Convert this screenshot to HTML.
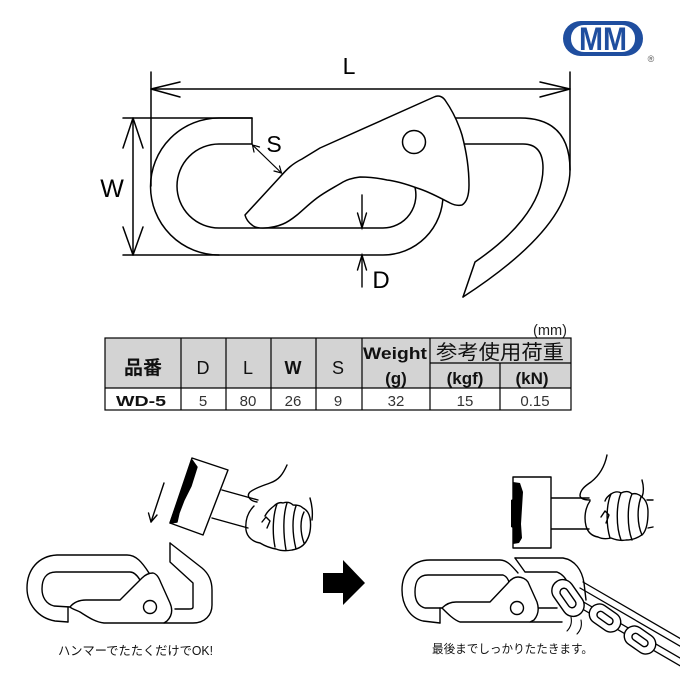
<!DOCTYPE html>
<html><head><meta charset="utf-8">
<style>
html,body{margin:0;padding:0;background:#fff;}
svg{display:block;}
text{font-family:"Liberation Sans","Noto Sans CJK JP",sans-serif;}
</style></head>
<body>
<svg width="680" height="680" viewBox="0 0 680 680" xmlns="http://www.w3.org/2000/svg">
<rect width="680" height="680" fill="#fff"/>

<!-- ================= LOGO ================= -->
<rect x="563" y="21" width="80" height="35" rx="17.5" fill="#1f4e9f"/>
<rect x="571" y="25" width="64" height="27" rx="13" fill="#fff"/>
<text x="603" y="50" text-anchor="middle" font-size="32" font-weight="bold" fill="#1f4e9f" textLength="48" lengthAdjust="spacingAndGlyphs">MM</text>
<text x="651" y="62" text-anchor="middle" font-size="9" fill="#555">®</text>

<!-- ================= TOP DIAGRAM ================= -->
<g fill="none" stroke="#000" stroke-width="1.5" stroke-linejoin="round" stroke-linecap="round">
  <line x1="151" y1="72" x2="151" y2="186"/>
  <line x1="570" y1="72" x2="570" y2="170"/>
  <line x1="151" y1="89" x2="570" y2="89"/>
  <polyline points="180,82 151,89 180,97"/>
  <polyline points="540,82 570,89 540,97"/>
  <line x1="123" y1="118" x2="252" y2="118"/>
  <line x1="123" y1="255" x2="219" y2="255"/>
  <line x1="133" y1="118" x2="133" y2="255"/>
  <polyline points="123,148 133,118 143,148"/>
  <polyline points="123,227 133,255 143,227"/>

  <path d="M252,118 L219,118 A68.5,68.5 0 0 0 219,255 L383,255 A60,60 0 0 0 443,195"/>
  <path d="M252,144 L219,144 A42,42 0 0 0 219,228 L383,228 A33,33 0 0 0 414,184"/>
  <line x1="252" y1="118" x2="252" y2="144"/>

  <path d="M450,118 L520,118 Q570,118 570,170 C570,215 520,260 463,297"/>
  <path d="M455,144 L523,144 Q543,144 543,168 C543,205 510,238 475,262 L463,297"/>
</g>

<path d="M245,215 L280,177 C287,169 292,164 302,159 L320,148 L434,97 C438,95 442,96 445,100 C452,110 458,122 462,135 C466,150 469,168 469,185 C469,195 467,202 462,205 C458,206 454,205 450,203 C440,198 430,192 417,188 C406,184 396,181 387,180 C378,178 368,177 360,177 C353,178 348,179 343,182 C333,188 325,192 317,198 C309,204 303,210 297,215 C292,219 288,222 283,224 C276,227 270,228 263,228 C258,228 254,227 252,225 C248,222 246,219 245,215 Z" fill="#fff" stroke="#000" stroke-width="1.5" stroke-linejoin="round"/>
<circle cx="414" cy="142" r="11.5" fill="#fff" stroke="#000" stroke-width="1.5"/>

<g fill="none" stroke="#000" stroke-width="1.2" stroke-linecap="round">
  <line x1="252.5" y1="145" x2="281.5" y2="173"/>
  <polyline points="254,152 252.5,145 259.5,147"/>
  <polyline points="274,171 281.5,173 279.5,166"/>
  <line x1="362" y1="195" x2="362" y2="228" stroke-width="1.4"/>
  <polyline points="357.5,213 362,228 366.5,213" stroke-width="1.4"/>
  <line x1="362" y1="255" x2="362" y2="287" stroke-width="1.4"/>
  <polyline points="357.5,270 362,255 366.5,270" stroke-width="1.4"/>
</g>

<text x="349" y="74" text-anchor="middle" font-size="23">L</text>
<text x="112" y="197" text-anchor="middle" font-size="25">W</text>
<text x="274" y="152" text-anchor="middle" font-size="23">S</text>
<text x="381" y="288" text-anchor="middle" font-size="24">D</text>

<!-- ================= TABLE ================= -->
<text x="567" y="335" text-anchor="end" font-size="15" fill="#222" textLength="34" lengthAdjust="spacingAndGlyphs">(mm)</text>
<rect x="105" y="338" width="466" height="50" fill="#d3d3d3"/>
<g stroke="#000" stroke-width="1.2" fill="none">
  <rect x="105" y="338" width="466" height="72"/>
  <line x1="105" y1="388" x2="571" y2="388"/>
  <line x1="430" y1="363" x2="571" y2="363"/>
  <line x1="181" y1="338" x2="181" y2="410"/>
  <line x1="226" y1="338" x2="226" y2="410"/>
  <line x1="271" y1="338" x2="271" y2="410"/>
  <line x1="316" y1="338" x2="316" y2="410"/>
  <line x1="362" y1="338" x2="362" y2="410"/>
  <line x1="430" y1="338" x2="430" y2="410"/>
  <line x1="500" y1="363" x2="500" y2="410"/>
</g>
<g fill="#111" text-anchor="middle">
  <text x="143" y="374" font-size="19" font-weight="bold">品番</text>
  <text x="203" y="374" font-size="18">D</text>
  <text x="248" y="374" font-size="18">L</text>
  <text x="293" y="374" font-size="18" font-weight="bold">W</text>
  <text x="338" y="374" font-size="18">S</text>
  <text x="395" y="359" font-size="17" font-weight="bold" textLength="64" lengthAdjust="spacingAndGlyphs">Weight</text>
  <text x="396" y="384" font-size="17" font-weight="bold">(g)</text>
  <text x="500" y="359" font-size="20" textLength="128" lengthAdjust="spacingAndGlyphs">参考使用荷重</text>
  <text x="465" y="384" font-size="17" font-weight="bold">(kgf)</text>
  <text x="532" y="384" font-size="17" font-weight="bold">(kN)</text>
</g>
<g fill="#333" text-anchor="middle" font-size="15">
  <text x="141" y="406" font-weight="bold" fill="#111" textLength="50" lengthAdjust="spacingAndGlyphs">WD-5</text>
  <text x="203" y="406">5</text>
  <text x="248" y="406">80</text>
  <text x="293" y="406">26</text>
  <text x="338" y="406">9</text>
  <text x="396" y="406">32</text>
  <text x="465" y="406">15</text>
  <text x="535" y="406">0.15</text>
</g>

<!-- ================= BOTTOM LEFT ================= -->
<g fill="none" stroke="#000" stroke-width="1.4" stroke-linejoin="round" stroke-linecap="round">
  <line x1="164" y1="483" x2="151" y2="522"/>
  <polyline points="148.5,513 151,522 157,515"/>
  <path d="M222,490 L257,500 L250,527 L212,518 Z" fill="#fff" stroke="none"/>
  <line x1="222" y1="490" x2="258" y2="500"/>
  <line x1="212" y1="518" x2="248" y2="528"/>
  <polygon points="192,458 228,470 203,535 170,523" fill="#fff"/>
  <polygon points="192,460 197,467 191,486 184,500 179,513 177,522 170,523" fill="#000"/>
  <path d="M287,465 C283,474 279,480 270,483 C262,486 255,488 250,492 C246,496 250,501 257,502"/>
  <path d="M254,506 C248,512 245,520 246,530 C247,537 253,542 260,543 C265,546 270,548 276,549 C281,551 287,551 292,550 C298,549 304,546 307,540 C311,533 311,524 310,518 C309,513 307,510 303,508 C300,505 296,505 293,505 C290,502 286,502 283,503 C280,502 277,503 274,506 C270,509 267,512 265,516"/>
  <path d="M277,504 C273,515 272,532 275,547"/>
  <path d="M287,503 C283,515 283,533 286,550"/>
  <path d="M296,506 C292,517 292,533 296,549"/>
  <path d="M304,512 C300,520 300,532 304,543"/>
  <path d="M310,498 C312,505 313,512 312,520"/>
  <path d="M262,522 L266,517 L270,521 L267,528"/>

  <path d="M68,622 L55,621 C38,618 27,604 27,588 C27,570 38,556 57,555 L127,555 C136,555 142,562 149,573"/>
  <path d="M70,607 L54,606 C46,604 42,597 42,589 C42,579 46,572 56,572 L130,572 C134,572 137,575 140,580"/>
  <line x1="68" y1="607" x2="68" y2="622"/>
  <path d="M70,607 C74,602 79,600 86,600 L120,600 L142,578 C145,575 149,573 153,573 C157,574 159,578 161,583 L170,603 C173,610 172,616 167,621 L164,623 L104,623 C95,622 88,617 80,612 C76,610 72,609 70,607 Z" fill="#fff"/>
  <circle cx="150" cy="607" r="6.5" fill="#fff"/>
  <path d="M170,543 L170,562 L193,583 L193,607 C193,609 191,609 189,609 L175,609"/>
  <path d="M170,543 L202,568 C208,573 212,580 212,590 L212,605 C212,615 205,623 193,623 L164,623"/>

  <polygon points="323,573 343,573 343,560 365,583 343,605 343,593 323,593" fill="#000" stroke="none"/>

  <!-- ================= BOTTOM RIGHT ================= -->
  <rect x="551" y="498" width="38" height="31" fill="#fff" stroke="none"/>
  <line x1="551" y1="498" x2="589" y2="498"/>
  <line x1="551" y1="529" x2="589" y2="529"/>
  <rect x="513" y="477" width="38" height="71" fill="#fff"/>
  <polygon points="513,482 520,483 523,492 522,508 521,524 522,538 519,543 513,544 513,528 511,527 511,500 513,499" fill="#000" stroke="none"/>
  <path d="M607,455 C605,465 600,475 591,482 C585,486 580,490 580,496 C581,499 585,500 590,500"/>
  <path d="M590,501 C585,508 584,518 586,526 C588,533 592,536 598,537 C602,539 607,539 611,538 C616,540 621,541 626,540 C632,540 638,538 643,534 C647,529 648,520 648,512 C648,505 646,500 642,497 C639,494 635,493 632,494 C629,491 625,491 621,493 C618,491 614,492 611,494 C608,496 606,498 605,501"/>
  <path d="M611,494 C606,505 606,525 610,538"/>
  <path d="M621,493 C616,505 616,527 621,540"/>
  <path d="M632,494 C627,505 627,527 632,540"/>
  <path d="M641,497 C637,508 637,524 642,535"/>
  <path d="M642,480 C644,487 644,492 642,497"/>
  <path d="M647,500 L653,500"/>
  <path d="M648,528 L653,527"/>
  <path d="M601,517 L605,511 L609,515 L606,523"/>

  <g stroke-width="1.3">
    <line x1="583" y1="582" x2="700" y2="650"/>
    <line x1="580" y1="588" x2="697" y2="656"/>
    <line x1="575" y1="597" x2="692" y2="665"/>
    <line x1="572" y1="603" x2="689" y2="671"/>
  </g>
  <path d="M440,623 L423,621 C410,618 402,605 402,590 C402,573 412,560 430,560 L500,560 C507,560 512,566 518,573"/>
  <path d="M442,608 L425,608 C418,606 415,600 415,592 C415,582 418,575 428,575 L503,575 C506,576 508,579 509,582"/>
  <line x1="440" y1="608" x2="440" y2="623"/>
  <path d="M515,558 L563,558 C575,560 582,570 584,583 L586,600"/>
  <path d="M515,558 L525,572 L557,572 C562,574 566,578 568,584"/>
  <path d="M530,622 L562,622"/>
  <path d="M538,608 L557,608"/>
  <path d="M442,608 C446,604 450,602 456,602 L490,602 L508,583 C511,579 514,577 518,577 C522,577 526,579 528,582 L537,602 C539,608 539,614 534,620 L530,622 L460,622 C454,620 448,614 442,608 Z" fill="#fff"/>
  <circle cx="517" cy="608" r="6.5" fill="#fff"/>

  <g fill="#fff" stroke-width="1.4">
    <g transform="translate(568,598) rotate(55)">
      <rect x="-20" y="-11" width="40" height="22" rx="11"/>
      <rect x="-11" y="-4" width="22" height="8" rx="4"/>
    </g>
    <g transform="translate(605,618) rotate(35)">
      <rect x="-17" y="-10" width="34" height="20" rx="10"/>
      <rect x="-9" y="-3.5" width="18" height="7" rx="3.5"/>
    </g>
    <g transform="translate(640,640) rotate(35)">
      <rect x="-17" y="-10" width="34" height="20" rx="10"/>
      <rect x="-9" y="-3.5" width="18" height="7" rx="3.5"/>
    </g>
  </g>
  <path d="M571,617 C572,622 571,627 567,631" stroke-width="1.1"/>
  <path d="M581,620 C582,625 581,630 577,634" stroke-width="1.1"/>
</g>

<text x="135.5" y="655" text-anchor="middle" font-size="12.5" textLength="155" lengthAdjust="spacingAndGlyphs" fill="#111">ハンマーでたたくだけでOK!</text>
<text x="512.5" y="653" text-anchor="middle" font-size="12" textLength="161" lengthAdjust="spacingAndGlyphs" fill="#111">最後までしっかりたたきます。</text>

</svg>
</body></html>
